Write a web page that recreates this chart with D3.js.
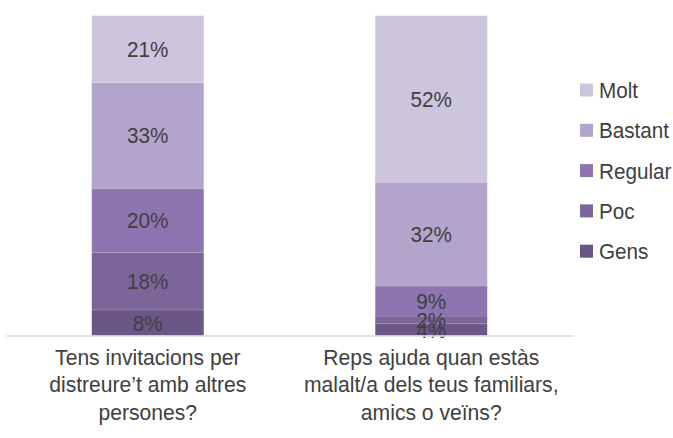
<!DOCTYPE html>
<html><head><meta charset="utf-8">
<script src="https://cdn.jsdelivr.net/npm/d3@7/dist/d3.min.js"></script>
<style>
body{margin:0;background:#fff;}
svg text{font-family:"Liberation Sans",Arial,sans-serif;}
</style></head>
<body><svg id="c" width="673" height="438"></svg>
<script>
const categories = [
  ["Tens invitacions per","distreure\u2019t amb altres","persones?"],
  ["Reps ajuda quan estàs","malalt/a dels teus familiars,","amics o veïns?"]
];
const seriesNames = ["Gens","Poc","Regular","Bastant","Molt"];
const gens    = [8, 3.7];
const poc     = [18, 2.4];
const regular = [20, 9.4];
const bastant = [33, 32.4];
const molt    = [21, 52.1];
const colors = ["#6a5788","#7c6699","#8e75b2","#b3a4cb","#ccc5dd"];

const seriesVals = [gens, poc, regular, bastant, molt];
const data = categories.map((c,i)=>{
  const o = {idx:i};
  seriesNames.forEach((s,j)=>o[s]=seriesVals[j][i]);
  return o;
});

const SX = 0.94; // horizontal condensation of text
const svg = d3.select("#c");
const x = d3.scaleBand().domain(d3.range(categories.length)).range([6,573])
  .paddingInner(0.605).paddingOuter(0.3025);
const y = d3.scaleLinear().domain([0,100]).range([335.5,15.5]);

const stack = d3.stack().keys(seriesNames)(data);

const layers = svg.append("g").selectAll("g").data(stack).join("g")
  .attr("fill",(d,i)=>colors[i]);
layers.selectAll("rect").data(d=>d).join("rect")
  .attr("x",d=>x(d.data.idx))
  .attr("width",x.bandwidth())
  .attr("y",d=>y(d[1]))
  .attr("height",d=>y(d[0])-y(d[1]));

layers.selectAll("line").data(d=>d).join("line")
  .attr("x1",d=>x(d.data.idx)).attr("x2",d=>x(d.data.idx)+x.bandwidth())
  .attr("y1",d=>y(d[1])).attr("y2",d=>y(d[1]))
  .attr("stroke","#fff").attr("stroke-opacity",0.3).attr("stroke-width",1);

function ctext(parent, cx, cy, txt, size, anchor, sx){
  return parent.append("text")
    .attr("transform",`translate(${cx},${cy}) scale(${sx||SX},1)`)
    .attr("text-anchor",anchor||"middle")
    .attr("font-size",size)
    .attr("fill","#404040")
    .text(txt);
}

const lab = svg.append("g");
stack.forEach(layer=>{
  layer.forEach(d=>{
    ctext(lab, x(d.data.idx)+x.bandwidth()/2, (y(d[0])+y(d[1]))/2, Math.round(d[1]-d[0])+"%", 22)
      .attr("dy","0.36em");
  });
});

const ax = svg.append("g").attr("transform","translate(0,335.5)")
  .call(d3.axisBottom(x).tickSize(0).tickFormat(""));
ax.select(".domain").attr("stroke","#d9d9d9").attr("stroke-width",1.5);

categories.forEach((lines,i)=>{
  lines.forEach((l,k)=>{
    ctext(svg, x(i)+x.bandwidth()/2, 365+k*27.3, l, 22, "middle", 0.96);
  });
});

const legOrder = ["Molt","Bastant","Regular","Poc","Gens"];
const lg = svg.append("g");
legOrder.forEach((s,k)=>{
  const yy = 90 + k*40.3;
  lg.append("rect").attr("x",580).attr("y",yy-6.5).attr("width",13).attr("height",13)
    .attr("fill",colors[seriesNames.indexOf(s)]);
  ctext(lg, 599, yy, s, 22, "start").attr("dy","0.36em");
});
</script></body></html>
